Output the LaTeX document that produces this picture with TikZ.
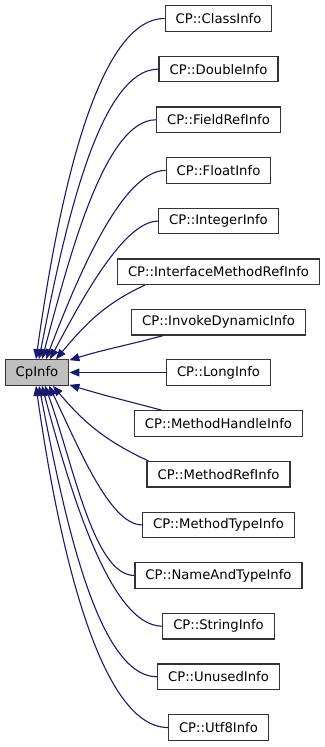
\documentclass[tikz,border=0pt]{standalone}
\usepackage{fontspec}
\setmainfont{DejaVu Sans}
\usepackage{xcolor}
\usepackage{tikz}
\usetikzlibrary{arrows.meta}

\definecolor{edgeblue}{HTML}{191970}
\definecolor{basegray}{HTML}{BFBFBF}
\definecolor{boxline}{HTML}{333333}

\begin{document}
\begin{tikzpicture}[
x=1pt,
y=1pt,
every node/.style={font=\fontsize{13.2}{15}\selectfont},
classbox/.style={rectangle,draw=boxline,line width=1.2pt,fill=white,minimum height=25.5pt,inner xsep=10.5pt,inner ysep=0pt},
basebox/.style={classbox,fill=basegray},
edge/.style={{Triangle[length=10pt,width=8pt]}-,draw=edgeblue,line width=1.1pt}
]
\useasboundingbox (0,0) rectangle (324,747);

% base class
\node[basebox] (cpinfo) at (37,374.5) {CpInfo};

% derived classes, top to bottom
\node[classbox] (classinfo) at (218.5,728.5) {CP::ClassInfo};
\node[classbox] (doubleinfo) at (218.5,677.9) {CP::DoubleInfo};
\node[classbox] (fieldrefinfo) at (218.5,627.2) {CP::FieldRefInfo};
\node[classbox] (floatinfo) at (218.5,576.6) {CP::FloatInfo};
\node[classbox] (integerinfo) at (218.5,525.9) {CP::IntegerInfo};
\node[classbox] (ifmethodrefinfo) at (218.5,475.3) {CP::InterfaceMethodRefInfo};
\node[classbox] (invokedyninfo) at (218.5,424.7) {CP::InvokeDynamicInfo};
\node[classbox] (longinfo) at (218.5,374.5) {CP::LongInfo};
\node[classbox] (methodhandleinfo) at (218.5,323.4) {CP::MethodHandleInfo};
\node[classbox] (methodrefinfo) at (218.5,272.7) {CP::MethodRefInfo};
\node[classbox] (methodtypeinfo) at (218.5,222.1) {CP::MethodTypeInfo};
\node[classbox] (nametypeinfo) at (218.5,171.5) {CP::NameAndTypeInfo};
\node[classbox] (stringinfo) at (218.5,120.8) {CP::StringInfo};
\node[classbox] (unusedinfo) at (218.5,70.2) {CP::UnusedInfo};
\node[classbox] (utf8info) at (218.5,19.5) {CP::Utf8Info};

% inheritance edges, arrow at the base class
\draw[edge] ([xshift=-1pt]cpinfo.north) to[out=82,in=180,out looseness=1,in looseness=0.5] (classinfo.west);
\draw[edge] ([xshift=2pt]cpinfo.north) to[out=79,in=180,out looseness=1,in looseness=0.5] (doubleinfo.west);
\draw[edge] ([xshift=5pt]cpinfo.north) to[out=75,in=180,out looseness=1,in looseness=0.5] (fieldrefinfo.west);
\draw[edge] ([xshift=9pt]cpinfo.north) to[out=69,in=180,out looseness=1,in looseness=0.5] (floatinfo.west);
\draw[edge] ([xshift=13pt]cpinfo.north) to[out=62,in=180,out looseness=1,in looseness=0.5] (integerinfo.west);
\draw[edge] ([xshift=19pt]cpinfo.north) to[out=50,in=-155] ([xshift=28pt]ifmethodrefinfo.south west);
\draw[edge] ([yshift=-1pt]cpinfo.north east) to[out=17,in=-165] ([xshift=32pt]invokedyninfo.south west);
\draw[edge] (cpinfo.east) -- (longinfo.west);
\draw[edge] ([yshift=1pt]cpinfo.south east) to[out=-17,in=165] ([xshift=28pt]methodhandleinfo.north west);
\draw[edge] ([xshift=16pt]cpinfo.south) to[out=-50,in=155] ([xshift=2pt]methodrefinfo.north west);
\draw[edge] ([xshift=12pt]cpinfo.south) to[out=-64,in=180,out looseness=1,in looseness=0.5] (methodtypeinfo.west);
\draw[edge] ([xshift=8pt]cpinfo.south) to[out=-70,in=180,out looseness=1,in looseness=0.5] (nametypeinfo.west);
\draw[edge] ([xshift=5pt]cpinfo.south) to[out=-75,in=180,out looseness=1,in looseness=0.5] (stringinfo.west);
\draw[edge] ([xshift=2pt]cpinfo.south) to[out=-79,in=180,out looseness=1,in looseness=0.5] (unusedinfo.west);
\draw[edge] ([xshift=-1pt]cpinfo.south) to[out=-82,in=180,out looseness=1,in looseness=0.5] (utf8info.west);
\end{tikzpicture}
\end{document}
